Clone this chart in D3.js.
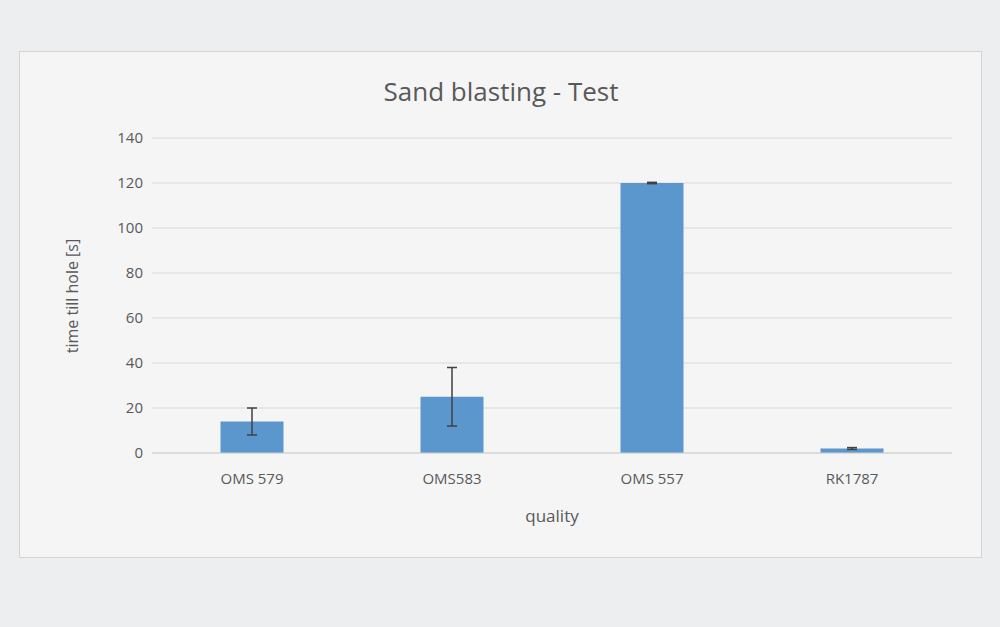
<!DOCTYPE html>
<html><head><meta charset="utf-8">
<script src="https://cdn.jsdelivr.net/npm/d3@7"></script>
<style>body{margin:0;background:#eceef0;font-family:"Open Sans",sans-serif}</style>
</head><body><svg></svg>
<script>
let width = 1000, height = 627;
let categories = ["OMS 579", "OMS583", "OMS 557", "RK1787"];
let values = [14, 25, 120, 2];
let errLow = [8, 12, 119.7, 1.6];
let errHigh = [20, 38, 120.3, 2.4];
let yTicks = [0, 20, 40, 60, 80, 100, 120, 140];

let svg = d3.select('svg').attr('width', width).attr('height', height);
svg.append('rect').attr('x', 19.5).attr('y', 51.5).attr('width', 962).attr('height', 506)
    .attr('fill', '#f5f5f5').attr('stroke', '#d3d3d3');

let x = d3.scaleBand().domain(categories).range([152, 952]).paddingInner(0.685).paddingOuter(0.3425);
let y = d3.scaleLinear().domain([0, 140]).range([453, 138]);

// gridlines
svg.append('g').selectAll('line').data(yTicks).join('line')
    .attr('x1', 152).attr('x2', 952).attr('y1', d => y(d)).attr('y2', d => y(d))
    .attr('stroke', '#d9d9d9').attr('stroke-width', 1);

let yAxis = svg.append('g').attr('transform', 'translate(143,0)')
    .call(d3.axisLeft(y).tickValues(yTicks).tickSize(0).tickPadding(0));
yAxis.select('.domain').remove();
yAxis.selectAll('text').attr('font-size', 15).attr('fill', '#595959').attr('font-family', 'Open Sans');

svg.append('g').selectAll('rect').data(values).join('rect')
    .attr('x', (d, i) => x(categories[i])).attr('width', x.bandwidth())
    .attr('y', d => y(d)).attr('height', d => y(0) - y(d)).attr('fill', '#5b97cd');

svg.append('line').attr('x1', 152).attr('x2', 952).attr('y1', y(0)).attr('y2', y(0)).attr('stroke', '#d0d0d0');

// error bars
let eb = svg.append('g').attr('stroke', '#404040').attr('stroke-width', 1.5);
categories.forEach((c, i) => {
    let cx = x(c) + x.bandwidth() / 2;
    eb.append('line').attr('x1', cx).attr('x2', cx).attr('y1', y(errLow[i])).attr('y2', y(errHigh[i]));
    [errLow[i], errHigh[i]].forEach(v => eb.append('line').attr('x1', cx - 5).attr('x2', cx + 5).attr('y1', y(v)).attr('y2', y(v)));
});

let xAxis = svg.append('g').attr('transform', 'translate(0,' + (y(0) + 10) + ')')
    .call(d3.axisBottom(x).tickSize(0).tickPadding(10));
xAxis.select('.domain').remove();
xAxis.selectAll('text').attr('font-size', 15).attr('fill', '#595959').attr('font-family', 'Open Sans');

svg.append('text').attr('x', 501).attr('y', 101).attr('text-anchor', 'middle')
    .attr('font-size', 26).attr('fill', '#595959').text('Sand blasting - Test');
svg.append('text').attr('x', 552).attr('y', 522).attr('text-anchor', 'middle')
    .attr('font-size', 17).attr('fill', '#595959').text('quality');
svg.append('text').attr('transform', 'translate(78,296) rotate(-90)').attr('text-anchor', 'middle')
    .attr('font-size', 16).attr('fill', '#595959').text('time till hole [s]');
</script></body></html>
